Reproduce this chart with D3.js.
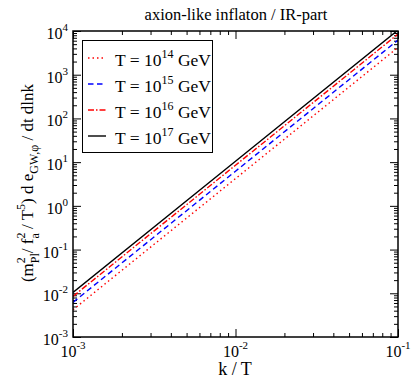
<!DOCTYPE html>
<html><head><meta charset="utf-8">
<script src="https://cdn.jsdelivr.net/npm/d3@7"></script>
<style>body{margin:0;background:#fff}text{font-family:"Liberation Serif","DejaVu Serif",serif;fill:#000}</style></head>
<body><svg id="c" width="411" height="378"></svg>
<script>
// Data
const kValues = [1e-3, 1e-2, 1e-1];
const seriesT14 = [4.2e-3, 4.2, 4.2e3];
const seriesT15 = [6.2e-3, 6.2, 6.2e3];
const seriesT16 = [8.5e-3, 8.5, 8.5e3];
const seriesT17 = [1.05e-2, 10.5, 1.05e4];
const legendExps = ["14", "15", "16", "17"];
const xTickVals = [1e-3, 1e-2, 1e-1];
const xTickExps = ["-3", "-2", "-1"];
const yTickVals = [1e-3, 1e-2, 1e-1, 1e0, 1e1, 1e2, 1e3, 1e4];
const yTickExps = ["-3", "-2", "-1", "0", "1", "2", "3", "4"];

const series = [
  {vals: seriesT14, color: "#ff0000", dash: "1.5,3"},
  {vals: seriesT15, color: "#0000ff", dash: "5.5,3.5"},
  {vals: seriesT16, color: "#ff0000", dash: "6,2,1.5,2"},
  {vals: seriesT17, color: "#000000", dash: null}
];

const L = 73, R = 398, T = 31, B = 337;
const svg = d3.select("#c");
const x = d3.scaleLog().domain([1e-3, 1e-1]).range([L, R]);
const y = d3.scaleLog().domain([1e-3, 1e4]).range([B, T]);

// minor ticks
function minors(lo, hi) {
  const out = [];
  for (let e = lo; e < hi; e++) for (let m = 2; m <= 9; m++) out.push(m * Math.pow(10, e));
  return out;
}
const xMin = minors(-3, -1), yMin = minors(-3, 4);

function axis(gen, vals, size, tr) {
  const g = svg.append("g").attr("transform", tr)
    .call(gen.tickValues(vals).tickSize(size).tickSizeOuter(0).tickFormat(""));
  g.select(".domain").remove();
  g.selectAll("line").attr("stroke", "#000").attr("stroke-width", 1);
}
axis(d3.axisBottom(x), xTickVals, -8, `translate(0,${B})`);
axis(d3.axisBottom(x), xMin, -4, `translate(0,${B})`);
axis(d3.axisTop(x), xTickVals, -8, `translate(0,${T})`);
axis(d3.axisTop(x), xMin, -4, `translate(0,${T})`);
axis(d3.axisLeft(y), yTickVals, -8, `translate(${L},0)`);
axis(d3.axisLeft(y), yMin, -4, `translate(${L},0)`);
axis(d3.axisRight(y), yTickVals, -8, `translate(${R},0)`);
axis(d3.axisRight(y), yMin, -4, `translate(${R},0)`);

// clip + lines
svg.append("clipPath").attr("id", "cp").append("rect")
  .attr("x", L).attr("y", T).attr("width", R - L).attr("height", B - T);
const line = d3.line().x((d, i) => x(kValues[i])).y(d => y(d));
const lg = svg.append("g").attr("clip-path", "url(#cp)");
series.forEach(s => {
  lg.append("path").attr("d", line(s.vals)).attr("fill", "none")
    .attr("stroke", s.color).attr("stroke-width", 1.4)
    .attr("stroke-dasharray", s.dash);
});

// frame
svg.append("rect").attr("x", L).attr("y", T).attr("width", R - L).attr("height", B - T)
  .attr("fill", "none").attr("stroke", "#000").attr("stroke-width", 1.5);

// tick labels
xTickVals.forEach((v, i) => {
  const t = svg.append("text").attr("x", x(v)).attr("y", 357)
    .attr("text-anchor", "middle").attr("font-size", 16);
  t.append("tspan").text("10");
  t.append("tspan").attr("font-size", 11).attr("dy", -8).text(xTickExps[i]);
});
yTickVals.forEach((v, i) => {
  const t = svg.append("text").attr("x", 68).attr("y", y(v) + 8)
    .attr("text-anchor", "end").attr("font-size", 16);
  t.append("tspan").text("10");
  t.append("tspan").attr("font-size", 11).attr("dy", -8).text(yTickExps[i]);
});

// title and axis labels
svg.append("text").attr("x", 236).attr("y", 20).attr("text-anchor", "middle")
  .attr("font-size", 16.5).text("axion-like inflaton / IR-part");
svg.append("text").attr("x", 235).attr("y", 375).attr("text-anchor", "middle")
  .attr("font-size", 18).text("k / T");

const yl = svg.append("text").attr("transform", "translate(33,183) rotate(-90)")
  .attr("text-anchor", "middle").attr("font-size", 17);
yl.append("tspan").text("(m");
yl.append("tspan").attr("font-size", 12).attr("dy", -8).text("2");
yl.append("tspan").attr("font-size", 12).attr("dx", -6).attr("dy", 14).text("Pl");
yl.append("tspan").attr("dy", -6).text("/ f");
yl.append("tspan").attr("font-size", 12).attr("dy", -8).text("2");
yl.append("tspan").attr("font-size", 12).attr("dx", -6).attr("dy", 14).text("a");
yl.append("tspan").attr("dy", -6).text(" / T");
yl.append("tspan").attr("font-size", 12).attr("dy", -8).text("5");
yl.append("tspan").attr("dy", 8).text(") d e");
yl.append("tspan").attr("font-size", 12).attr("dy", 5).text("GW,φ");
yl.append("tspan").attr("dy", -5).text(" / dt dlnk");

// legend
svg.append("rect").attr("x", 82.5).attr("y", 40.5).attr("width", 130).attr("height", 112)
  .attr("fill", "#fff").attr("stroke", "#000").attr("stroke-width", 1);
series.forEach((s, i) => {
  const yy = 58 + i * 26;
  svg.append("line").attr("x1", 88).attr("x2", 106).attr("y1", yy).attr("y2", yy)
    .attr("stroke", s.color).attr("stroke-width", 1.4).attr("stroke-dasharray", s.dash);
  const t = svg.append("text").attr("x", 115).attr("y", yy + 8).attr("font-size", 17.5);
  t.append("tspan").text("T = 10");
  t.append("tspan").attr("font-size", 12).attr("dy", -8).text(legendExps[i]);
  t.append("tspan").attr("dy", 8).text(" GeV");
});
</script></body></html>
